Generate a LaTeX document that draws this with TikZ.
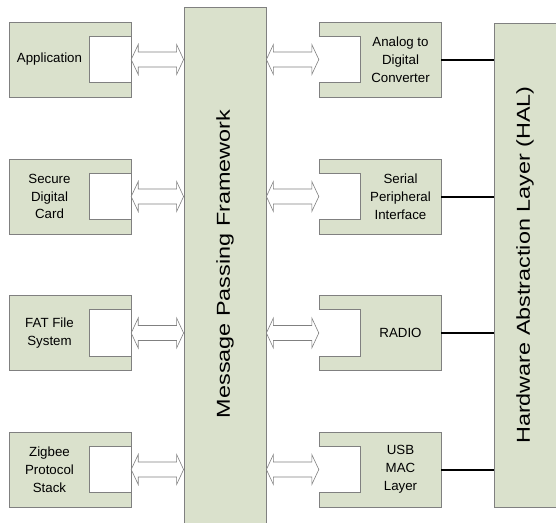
\documentclass[tikz,border=0pt]{standalone}
\usepackage{fontspec}
\setmainfont{Liberation Sans}
\usetikzlibrary{calc}
\definecolor{boxfill}{RGB}{218,225,204}
\definecolor{boxline}{RGB}{128,128,128}
\begin{document}
\begin{tikzpicture}[x=1pt,y=-1pt,
  blk/.style={draw=boxline,line width=0.8pt,fill=boxfill,rectangle,inner sep=0pt},
  modbox/.style={blk,minimum width=122pt,minimum height=75pt},
  port/.style={fill=white,draw=none,rectangle,inner sep=0pt,minimum width=41pt,minimum height=46pt},
  portedge/.style={draw=boxline,line width=0.8pt},
  lbl/.style={align=center,font=\fontsize{13.3pt}{17.8pt}\selectfont,inner sep=0pt},
  big/.style={rotate=90,font=\fontsize{23.4pt}{28pt}\selectfont,inner sep=0pt},
  arr/.style={draw=boxline,line width=0.6pt,fill=white,line join=miter},
  conn/.style={draw=black,line width=2pt}]
\useasboundingbox (0,0) rectangle (556,522);
\clip (0,0) rectangle (556,522);
\fill[white] (0,0) rectangle (556,522);

% big blocks
\node[blk,minimum width=82pt,minimum height=523pt] (mpf) at (225,268.5) {};
\node[big] (mpft) at (225,264) {\scalebox{1}[0.8]{Message Passing Framework}};
\node[blk,minimum width=66pt,minimum height=484pt] (hal) at (527,265) {};
\node[big] (halt) at (525,265) {\scalebox{1}[0.8]{Hardware Abstraction Layer (HAL)}};

% left modules
\foreach \n/\y/\t in {app/59.5/Application, sdc/196.5/{Secure\\Digital\\Card}, fat/333/{FAT File\\System}, zig/469.5/{Zigbee\\Protocol\\Stack}}{
  \node[modbox] (\n) at (70,\y) {};
  \node[port] (\n p) at (110.5,\y) {};
  \draw[portedge] (\n p.north east) -- (\n p.north west) -- (\n p.south west) -- (\n p.south east);
  \node[lbl] (\n t) at (49.5,\y) {\t};
  \draw[arr] (\n p.east) -- ++(7,-15) -- ++(0,7.5)
    -- ($(mpf.west |- \n p.east)+(-7,-7.5)$) -- ++(0,-7.5)
    -- (mpf.west |- \n p.east) -- ++(-7,15) -- ++(0,-7.5)
    -- ($(\n p.east)+(7,7.5)$) -- ++(0,7.5) -- cycle;
}

% right modules
\foreach \n/\y/\t in {adc/59.5/{Analog to\\Digital\\Converter}, spi/196.5/{Serial\\Peripheral\\Interface}, rad/333/RADIO, usb/469.5/{USB\\MAC\\Layer}}{
  \node[modbox] (\n) at (380,\y) {};
  \node[port] (\n p) at (339.5,\y) {};
  \draw[portedge] (\n p.north west) -- (\n p.north east) -- (\n p.south east) -- (\n p.south west);
  \node[lbl] (\n t) at (400.5,\y) {\t};
  \draw[arr] (mpf.east |- \n p.west) -- ++(7,-15) -- ++(0,7.5)
    -- ($(\n p.west)+(-7,-7.5)$) -- ++(0,-7.5)
    -- (\n p.west) -- ++(-7,15) -- ++(0,-7.5)
    -- ($(mpf.east |- \n p.west)+(7,7.5)$) -- ++(0,7.5) -- cycle;
  \draw[conn] (\n.east) -- (hal.west |- \n.east);
}
\end{tikzpicture}
\end{document}
